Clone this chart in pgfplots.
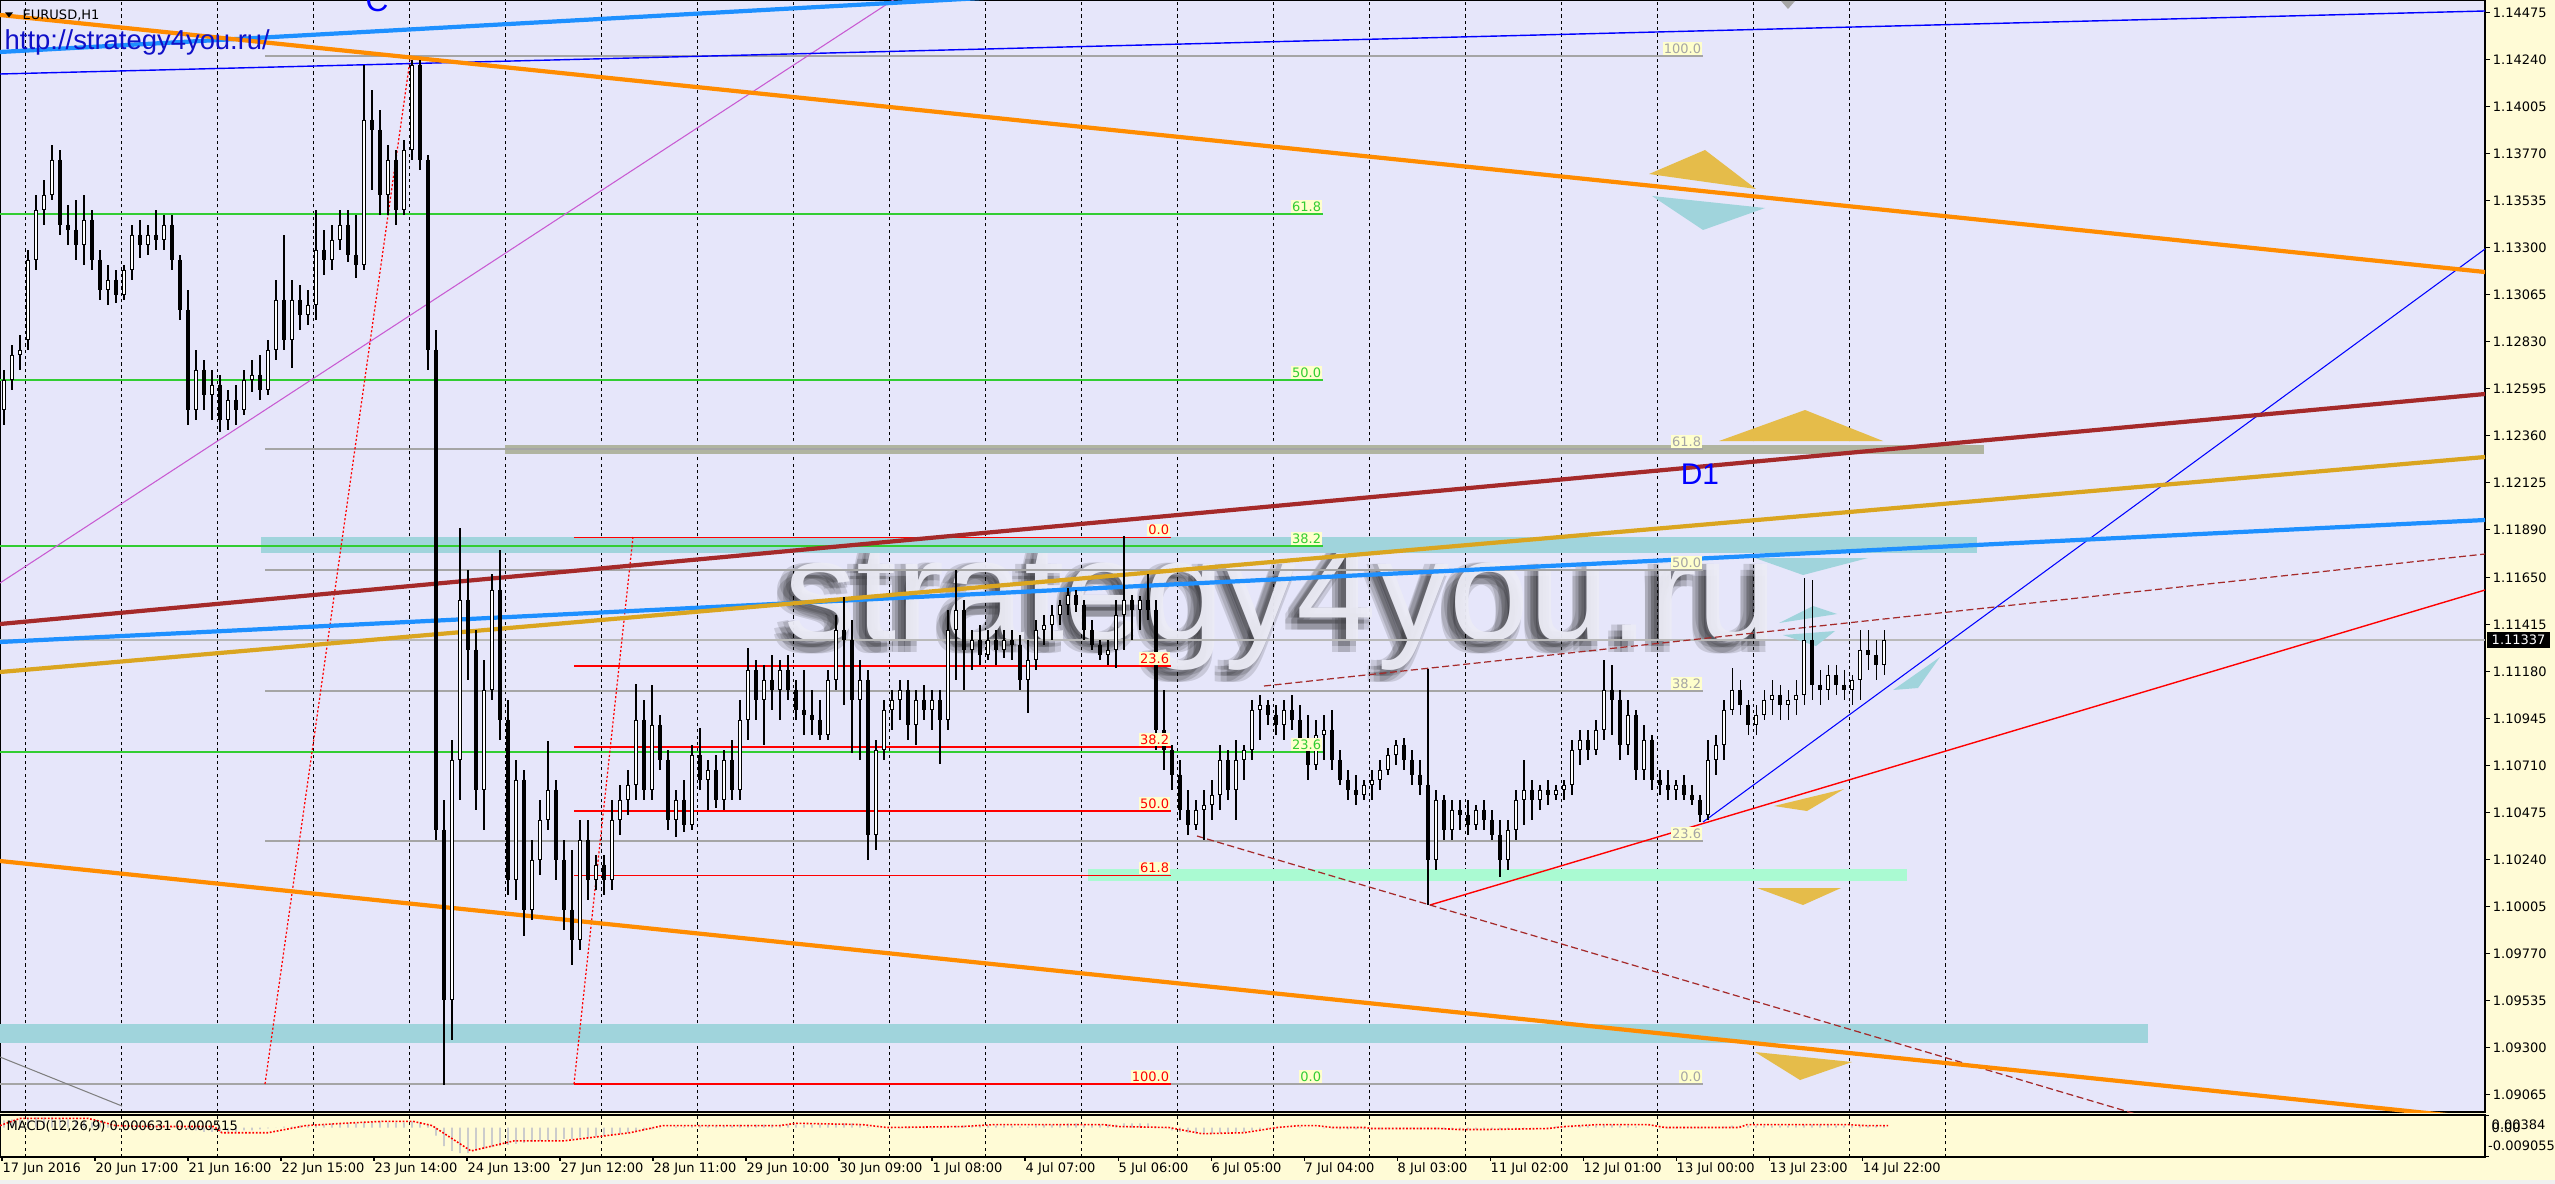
\documentclass[border=0pt]{standalone}
\usepackage{pgfplots}
\pgfplotsset{compat=1.18}
\usepackage{pgfplotstable}
\usepackage{fontspec}
\setmainfont{DejaVu Sans}
\newfontfamily\arial{Liberation Sans}
\newcommand\tf{\fontsize{3.7pt}{4.2pt}\selectfont}
\newcommand\wm{\arial\fontsize{41pt}{45pt}\selectfont}
\definecolor{lav}{RGB}{230,230,250}
\definecolor{bgy}{RGB}{255,251,214}
\definecolor{orng}{RGB}{255,140,0}
\definecolor{gldr}{RGB}{218,165,32}
\definecolor{brn}{RGB}{165,42,42}
\definecolor{dblue}{RGB}{30,144,255}
\definecolor{tblue}{RGB}{0,0,255}
\definecolor{purp}{RGB}{200,90,210}
\definecolor{lblue}{RGB}{160,212,220}
\definecolor{mint}{RGB}{170,250,210}
\definecolor{olv}{RGB}{176,180,160}
\definecolor{trigold}{RGB}{229,188,74}
\definecolor{fibgreen}{RGB}{50,205,50}
\definecolor{fibgrey}{RGB}{165,165,165}
\definecolor{labbg}{RGB}{255,255,204}
\definecolor{urlblue}{RGB}{16,16,200}
\definecolor{wmtext}{RGB}{236,236,246}

\pgfplotstableread{
x o h l c
4 1.12487 1.12687 1.12412 1.12637
12 1.12637 1.12812 1.12587 1.12762
20 1.12762 1.12862 1.12687 1.12787
28 1.12837 1.13287 1.12787 1.13237
36 1.13237 1.13562 1.13187 1.13487
44 1.13487 1.13637 1.13412 1.13562
52 1.13562 1.13812 1.13537 1.13737
60 1.13737 1.13787 1.13362 1.13412
68 1.13412 1.13512 1.13312 1.13387
76 1.13387 1.13537 1.13237 1.13312
84 1.13312 1.13562 1.13212 1.13437
92 1.13437 1.13487 1.13187 1.13237
100 1.13237 1.13287 1.13037 1.13087
108 1.13087 1.13212 1.13012 1.13137
116 1.13137 1.13187 1.13022 1.13062
124 1.13062 1.13212 1.13037 1.13187
132 1.13187 1.13412 1.13137 1.13362
140 1.13362 1.13437 1.13247 1.13312
148 1.13312 1.13412 1.13262 1.13362
156 1.13362 1.13487 1.13287 1.13337
164 1.13337 1.13462 1.13287 1.13412
172 1.13412 1.13462 1.13187 1.13237
180 1.13237 1.13262 1.12937 1.12987
188 1.12987 1.13087 1.12412 1.12487
196 1.12487 1.12787 1.12437 1.12687
204 1.12687 1.12737 1.12487 1.12562
212 1.12562 1.12687 1.12437 1.12612
220 1.12612 1.12662 1.12377 1.12437
228 1.12437 1.12587 1.12387 1.12537
236 1.12537 1.12612 1.12412 1.12487
244 1.12487 1.12687 1.12462 1.12637
252 1.12637 1.12737 1.12577 1.12662
260 1.12662 1.12762 1.12537 1.12587
268 1.12587 1.12837 1.12562 1.12787
276 1.12787 1.13137 1.12737 1.13037
284 1.13037 1.13362 1.12787 1.12837
292 1.12837 1.13137 1.12697 1.13037
300 1.13037 1.13112 1.12887 1.12962
308 1.12962 1.13087 1.12912 1.13012
316 1.13012 1.13487 1.12937 1.13287
324 1.13287 1.13387 1.13162 1.13237
332 1.13237 1.13412 1.13187 1.13337
340 1.13337 1.13487 1.13287 1.13412
348 1.13412 1.13487 1.13227 1.13262
356 1.13262 1.13462 1.13147 1.13212
364 1.13212 1.14212 1.13187 1.13937
372 1.13937 1.14087 1.13587 1.13887
380 1.13887 1.13987 1.13462 1.13562
388 1.13562 1.13812 1.13462 1.13737
396 1.13737 1.13787 1.13412 1.13487
404 1.13487 1.13837 1.13462 1.13787
412 1.13787 1.14237 1.13737 1.14212
420 1.14212 1.14237 1.13687 1.13737
428 1.13737 1.13762 1.12687 1.12787
436 1.12787 1.12887 1.10337 1.10387
444 1.10387 1.10537 1.09112 1.09537
452 1.09537 1.10837 1.09337 1.10737
460 1.10737 1.11897 1.10537 1.11537
468 1.11537 1.11687 1.11137 1.11287
476 1.11287 1.11387 1.10487 1.10587
484 1.10587 1.11237 1.10387 1.11087
492 1.11087 1.11667 1.11037 1.11587
500 1.11587 1.11787 1.10837 1.10937
508 1.10937 1.11037 1.10062 1.10137
516 1.10137 1.10737 1.10037 1.10637
524 1.10637 1.10687 1.09857 1.09987
532 1.09987 1.10337 1.09937 1.10237
540 1.10237 1.10537 1.10162 1.10437
548 1.10437 1.10832 1.10387 1.10587
556 1.10587 1.10637 1.10137 1.10237
564 1.10237 1.10337 1.09887 1.09987
572 1.09987 1.10287 1.09712 1.09837
580 1.09837 1.10437 1.09787 1.10337
588 1.10337 1.10437 1.10037 1.10137
596 1.10137 1.10262 1.10087 1.10212
604 1.10212 1.10262 1.10062 1.10137
612 1.10137 1.10537 1.10087 1.10437
620 1.10437 1.10612 1.10362 1.10537
628 1.10537 1.10687 1.10462 1.10612
636 1.10612 1.11117 1.10537 1.10937
644 1.10937 1.11037 1.10537 1.10587
652 1.10587 1.11112 1.10537 1.10912
660 1.10912 1.10962 1.10687 1.10737
668 1.10737 1.10787 1.10387 1.10437
676 1.10437 1.10587 1.10352 1.10537
684 1.10537 1.10637 1.10377 1.10412
692 1.10412 1.10812 1.10387 1.10762
700 1.10762 1.10897 1.10587 1.10637
708 1.10637 1.10737 1.10487 1.10687
716 1.10687 1.10762 1.10497 1.10537
724 1.10537 1.10787 1.10487 1.10737
732 1.10737 1.10837 1.10537 1.10587
740 1.10587 1.11037 1.10537 1.10937
748 1.10937 1.11297 1.10837 1.11187
756 1.11187 1.11237 1.10937 1.11037
764 1.11037 1.11212 1.10812 1.11137
772 1.11137 1.11262 1.10987 1.11087
780 1.11087 1.11237 1.10937 1.11187
788 1.11187 1.11262 1.11037 1.11087
796 1.11087 1.11137 1.10937 1.10987
804 1.10987 1.11187 1.10862 1.10962
812 1.10962 1.11087 1.10862 1.10937
820 1.10937 1.11037 1.10837 1.10862
828 1.10862 1.11187 1.10837 1.11137
836 1.11137 1.11462 1.11087 1.11387
844 1.11387 1.11552 1.11012 1.11337
852 1.11337 1.11437 1.10772 1.11037
860 1.11037 1.11237 1.10737 1.11137
868 1.11137 1.11187 1.10237 1.10362
876 1.10362 1.10837 1.10287 1.10787
884 1.10787 1.11037 1.10737 1.10987
892 1.10987 1.11087 1.10887 1.11037
900 1.11037 1.11137 1.10937 1.11087
908 1.11087 1.11137 1.10837 1.10912
916 1.10912 1.11087 1.10812 1.11037
924 1.11037 1.11112 1.10937 1.10987
932 1.10987 1.11087 1.10887 1.11037
940 1.11037 1.11087 1.10717 1.10937
948 1.10937 1.11487 1.10887 1.11387
956 1.11387 1.11687 1.11137 1.11487
964 1.11487 1.11537 1.11087 1.11287
972 1.11287 1.11387 1.11187 1.11337
980 1.11337 1.11412 1.11212 1.11262
988 1.11262 1.11387 1.11237 1.11337
996 1.11337 1.11387 1.11212 1.11287
1004 1.11287 1.11387 1.11247 1.11337
1012 1.11337 1.11387 1.11237 1.11312
1020 1.11312 1.11362 1.11087 1.11137
1028 1.11137 1.11337 1.10972 1.11237
1036 1.11237 1.11437 1.11187 1.11387
1044 1.11387 1.11462 1.11312 1.11412
1052 1.11412 1.11512 1.11337 1.11462
1060 1.11462 1.11537 1.11412 1.11512
1068 1.11512 1.11597 1.11462 1.11562
1076 1.11562 1.11587 1.11477 1.11512
1084 1.11512 1.11537 1.11337 1.11387
1092 1.11387 1.11437 1.11287 1.11312
1100 1.11312 1.11337 1.11237 1.11262
1108 1.11262 1.11337 1.11212 1.11287
1116 1.11287 1.11537 1.11197 1.11462
1124 1.11462 1.11857 1.11287 1.11537
1132 1.11537 1.11562 1.11337 1.11487
1140 1.11487 1.11557 1.11387 1.11537
1148 1.11537 1.11667 1.11437 1.11487
1156 1.11487 1.11537 1.10787 1.10887
1164 1.10887 1.11087 1.10687 1.10787
1172 1.10787 1.10812 1.10587 1.10662
1180 1.10662 1.10737 1.10437 1.10487
1188 1.10487 1.10587 1.10362 1.10412
1196 1.10412 1.10537 1.10387 1.10487
1204 1.10487 1.10587 1.10337 1.10512
1212 1.10512 1.10637 1.10437 1.10562
1220 1.10562 1.10812 1.10487 1.10737
1228 1.10737 1.10787 1.10537 1.10587
1236 1.10587 1.10837 1.10437 1.10737
1244 1.10737 1.10812 1.10637 1.10787
1252 1.10787 1.11037 1.10737 1.10987
1260 1.10987 1.11062 1.10837 1.11012
1268 1.11012 1.11037 1.10912 1.10962
1276 1.10962 1.11012 1.10862 1.10912
1284 1.10912 1.11037 1.10837 1.10987
1292 1.10987 1.11062 1.10887 1.10937
1300 1.10937 1.11012 1.10787 1.10837
1308 1.10837 1.10962 1.10637 1.10712
1316 1.10712 1.10937 1.10687 1.10862
1324 1.10862 1.10962 1.10737 1.10887
1332 1.10887 1.10987 1.10687 1.10737
1340 1.10737 1.10787 1.10612 1.10637
1348 1.10637 1.10687 1.10537 1.10587
1356 1.10587 1.10662 1.10512 1.10562
1364 1.10562 1.10637 1.10537 1.10612
1372 1.10612 1.10687 1.10537 1.10637
1380 1.10637 1.10737 1.10587 1.10687
1388 1.10687 1.10797 1.10662 1.10762
1396 1.10762 1.10837 1.10712 1.10812
1404 1.10812 1.10847 1.10687 1.10737
1412 1.10737 1.10787 1.10612 1.10662
1420 1.10662 1.10737 1.10562 1.10612
1428 1.10612 1.11192 1.10012 1.10237
1436 1.10237 1.10587 1.10187 1.10537
1444 1.10537 1.10562 1.10337 1.10387
1452 1.10387 1.10537 1.10337 1.10487
1460 1.10487 1.10537 1.10387 1.10462
1468 1.10462 1.10537 1.10362 1.10412
1476 1.10412 1.10512 1.10387 1.10487
1484 1.10487 1.10537 1.10387 1.10437
1492 1.10437 1.10487 1.10337 1.10362
1500 1.10362 1.10437 1.10152 1.10237
1508 1.10237 1.10437 1.10187 1.10387
1516 1.10387 1.10587 1.10337 1.10537
1524 1.10537 1.10737 1.10412 1.10587
1532 1.10587 1.10637 1.10437 1.10537
1540 1.10537 1.10612 1.10487 1.10587
1548 1.10587 1.10637 1.10512 1.10562
1556 1.10562 1.10612 1.10537 1.10587
1564 1.10587 1.10637 1.10537 1.10612
1572 1.10612 1.10837 1.10562 1.10787
1580 1.10787 1.10887 1.10712 1.10837
1588 1.10837 1.10887 1.10737 1.10787
1596 1.10787 1.10937 1.10762 1.10887
1604 1.10887 1.11237 1.10837 1.11087
1612 1.11087 1.11212 1.10862 1.11037
1620 1.11037 1.11087 1.10737 1.10812
1628 1.10812 1.11037 1.10762 1.10962
1636 1.10962 1.10987 1.10637 1.10687
1644 1.10687 1.10912 1.10637 1.10837
1652 1.10837 1.10862 1.10587 1.10637
1660 1.10637 1.10687 1.10562 1.10612
1668 1.10612 1.10687 1.10537 1.10587
1676 1.10587 1.10637 1.10537 1.10612
1684 1.10612 1.10662 1.10537 1.10562
1692 1.10562 1.10612 1.10512 1.10537
1700 1.10537 1.10562 1.10427 1.10462
1708 1.10462 1.10837 1.10437 1.10737
1716 1.10737 1.10862 1.10662 1.10812
1724 1.10812 1.11037 1.10737 1.10987
1732 1.10987 1.11197 1.10962 1.11087
1740 1.11087 1.11137 1.10962 1.11012
1748 1.11012 1.11037 1.10862 1.10912
1756 1.10912 1.11012 1.10862 1.10962
1764 1.10962 1.11087 1.10937 1.11037
1772 1.11037 1.11137 1.10962 1.11062
1780 1.11062 1.11112 1.10937 1.11012
1788 1.11012 1.11087 1.10937 1.11037
1796 1.11037 1.11137 1.10962 1.11062
1804 1.11062 1.11647 1.11012 1.11337
1812 1.11337 1.11637 1.11037 1.11112
1820 1.11112 1.11187 1.11012 1.11087
1828 1.11087 1.11212 1.11037 1.11162
1836 1.11162 1.11212 1.11062 1.11112
1844 1.11112 1.11187 1.11037 1.11087
1852 1.11087 1.11162 1.11012 1.11137
1860 1.11137 1.11387 1.11037 1.11287
1868 1.11287 1.11387 1.11187 1.11262
1876 1.11262 1.11337 1.11137 1.11212
1884 1.11212 1.11387 1.11162 1.11337
}\candles

\pgfplotstableread[row sep=\\]{v\\0.0022\\0.0025\\0.0025\\0.0028\\0.0031\\0.0031\\0.0031\\0.0028\\0.0025\\0.0022\\
0.0019\\0.0016\\0.0013\\0.0009\\0.0006\\0.0006\\0.0006\\0.0006\\0.0006\\0.0006\\
0.0006\\0.0003\\0\\-0.0006\\-0.0009\\-0.0013\\-0.0013\\-0.0013\\-0.0013\\-0.0013\\
-0.0009\\-0.0009\\-0.0006\\-0.0003\\0\\0.0003\\0.0003\\0.0006\\0.0006\\0.0009\\
0.0009\\0.0013\\0.0013\\0.0013\\0.0013\\0.0016\\0.0019\\0.0019\\0.0016\\0.0016\\
0.0016\\0.0019\\0.0016\\0.0009\\-0.0025\\-0.0057\\-0.0072\\-0.0079\\-0.0079\\-0.0072\\
-0.0066\\-0.0060\\-0.0057\\-0.0053\\-0.0050\\-0.0047\\-0.0044\\-0.0041\\-0.0038\\-0.0038\\
-0.0035\\-0.0035\\-0.0031\\-0.0031\\-0.0028\\-0.0025\\-0.0022\\-0.0019\\-0.0016\\-0.0013\\
-0.0009\\-0.0006\\-0.0003\\0\\0.0003\\0.0003\\0.0006\\0.0006\\0.0006\\0.0006\\
0.0006\\0.0006\\0.0009\\0.0009\\0.0009\\0.0009\\0.0009\\0.0009\\0.0009\\0.0009\\
0.0009\\0.0009\\0.0009\\0.0009\\0.0013\\0.0013\\0.0013\\0.0009\\0.0003\\0\\
0\\-0.0003\\-0.0003\\-0.0003\\-0.0003\\-0.0003\\-0.0003\\-0.0003\\0.0003\\0.0006\\
0.0006\\0.0006\\0.0006\\0.0006\\0.0006\\0.0006\\0.0006\\0.0003\\0.0003\\0.0006\\
0.0009\\0.0009\\0.0009\\0.0013\\0.0013\\0.0009\\0.0009\\0.0009\\0.0009\\0.0009\\
0.0013\\0.0013\\0.0013\\0.0013\\0.0003\\-0.0003\\-0.0009\\-0.0013\\-0.0016\\-0.0019\\
-0.0019\\-0.0019\\-0.0016\\-0.0016\\-0.0013\\-0.0013\\-0.0009\\-0.0006\\-0.0003\\-0.0003\\
0\\0\\0.0003\\0\\0\\-0.0003\\-0.0003\\-0.0006\\-0.0006\\-0.0006\\
-0.0006\\-0.0006\\-0.0006\\-0.0003\\-0.0003\\-0.0003\\-0.0003\\-0.0006\\-0.0006\\-0.0006\\
-0.0006\\-0.0006\\-0.0006\\-0.0006\\-0.0006\\-0.0006\\-0.0006\\-0.0006\\-0.0006\\-0.0003\\
-0.0003\\0\\0\\0\\0.0003\\0.0003\\0.0006\\0.0006\\0.0006\\0.0006\\
0.0009\\0.0009\\0.0006\\0.0006\\0.0003\\0\\0\\-0.0003\\-0.0003\\-0.0003\\
-0.0003\\-0.0003\\-0.0003\\0\\0\\0.0003\\0.0006\\0.0006\\0.0006\\0.0006\\
0.0006\\0.0006\\0.0006\\0.0006\\0.0006\\0.0009\\0.0009\\0.0009\\0.0009\\0.0006\\
0.0006\\0.0006\\0.0006\\0.0006\\0.0006\\0.0006\\
}\macdh

\begin{document}
\begin{tikzpicture}
\useasboundingbox (0,0) rectangle (255.5mm,-118.4mm);
\fill[bgy] (0,0) rectangle (255.5mm,-118.4mm);
\fill[gray!12] (0,-118.0mm) rectangle (255.5mm,-118.4mm);

\begin{axis}[
  at={(0,0)}, anchor=north west, scale only axis,
  width=248.5mm, height=111.2mm,
  xmin=0, xmax=2485, ymin=1.08977, ymax=1.14537,
  axis background/.style={fill=lav},
  axis line style={black, line width=0.35pt},
  xtick={25,121,...,1945}, xticklabels={}, xtick style={draw=none},
  xmajorgrids, major x grid style={black, line width=0.25pt, dash pattern=on 0.9pt off 0.9pt},
  ytick={1.09065,1.09300,1.09535,1.09770,1.10005,1.10240,1.10475,1.10710,1.10945,1.11180,1.11415,1.11650,1.11890,1.12125,1.12360,1.12595,1.12830,1.13065,1.13300,1.13535,1.13770,1.14005,1.14240,1.14475},
  yticklabels={1.09065,1.09300,1.09535,1.09770,1.10005,1.10240,1.10475,1.10710,1.10945,1.11180,1.11415,1.11650,1.11890,1.12125,1.12360,1.12595,1.12830,1.13065,1.13300,1.13535,1.13770,1.14005,1.14240,1.14475},
  ytick pos=right, yticklabel pos=right, tick align=outside,
  major tick length=0.5mm,
  ytick style={black, line width=0.3pt},
  yticklabel style={font=\tf, anchor=west, inner sep=0.6pt},
]
% watermark (background, blurred shadow)
\pgfplotsextra{
  \foreach \dx/\dy in {-1.4/-1.2,-0.8/-1.2,-0.2/-1.2,-1.4/-0.6,-0.8/-0.6,-0.2/-0.6,-1.1/0.0,-0.5/0.0}{
      \node[anchor=base, font=\wm, text=black, opacity=0.13, inner sep=0]
        at ([shift={(\dx mm,\dy mm)}]axis cs:1281,1.11337) {strategy4you.ru};
  }
  \node[anchor=base, font=\wm, text=wmtext, opacity=0.95, inner sep=0]
     at (axis cs:1281,1.11337) {strategy4you.ru};
}
% bands
\addplot[fill=lblue, draw=none] coordinates {(261,1.11852) (1977,1.11852) (1977,1.11772) (261,1.11772)} -- cycle;
\addplot[fill=lblue, draw=none] coordinates {(0,1.09417) (2148,1.09417) (2148,1.09322) (0,1.09322)} -- cycle;
\addplot[fill=olv, draw=none] coordinates {(505,1.12312) (1984,1.12312) (1984,1.12267) (505,1.12267)} -- cycle;
\addplot[fill=mint, draw=none] coordinates {(1088,1.10192) (1907,1.10192) (1907,1.10132) (1088,1.10132)} -- cycle;
% bid line
\addplot[gray!55, line width=0.3pt] coordinates {(0,1.11337) (2485,1.11337)};
% fib A (green)
\addplot[fibgreen, line width=0.3pt] coordinates {(0,1.13467) (1323,1.13467)};
\addplot[fibgreen, line width=0.3pt] coordinates {(0,1.12637) (1323,1.12637)};
\addplot[fibgreen, line width=0.3pt] coordinates {(0,1.11807) (1323,1.11807)};
\addplot[fibgreen, line width=0.3pt] coordinates {(0,1.10777) (1323,1.10777)};
\addplot[fibgrey, line width=0.3pt] coordinates {(0,1.09117) (1323,1.09117)};
% fib B (grey)
\addplot[fibgrey, line width=0.3pt] coordinates {(265,1.14257) (1703,1.14257)};
\addplot[fibgrey, line width=0.3pt] coordinates {(265,1.12292) (1703,1.12292)};
\addplot[fibgrey, line width=0.3pt] coordinates {(265,1.11687) (1703,1.11687)};
\addplot[fibgrey, line width=0.3pt] coordinates {(265,1.11082) (1703,1.11082)};
\addplot[fibgrey, line width=0.3pt] coordinates {(265,1.10332) (1703,1.10332)};
\addplot[fibgrey, line width=0.3pt] coordinates {(265,1.09117) (1703,1.09117)};
% fib C (red)
\addplot[red, line width=0.3pt] coordinates {(574,1.118495) (1171,1.118495)};
\addplot[red, line width=0.3pt] coordinates {(574,1.11207) (1171,1.11207)};
\addplot[red, line width=0.3pt] coordinates {(574,1.10802) (1171,1.10802)};
\addplot[red, line width=0.3pt] coordinates {(574,1.10482) (1171,1.10482)};
\addplot[red, line width=0.3pt] coordinates {(574,1.101595) (1171,1.101595)};
\addplot[red, line width=0.5pt] coordinates {(574,1.09117) (1171,1.09117)};
% thin trend lines
\addplot[purp, line width=0.3pt] coordinates {(0,1.11622) (950,1.14722)};
\addplot[red, line width=0.35pt, dash pattern=on 0.6pt off 0.6pt] coordinates {(265,1.09117) (410,1.14237)};
\addplot[red, line width=0.35pt, dash pattern=on 0.6pt off 0.6pt] coordinates {(574,1.09117) (633,1.11852)};
\addplot[gray, line width=0.3pt] coordinates {(0,1.09252) (122,1.09007)};
\addplot[tblue, line width=0.4pt] coordinates {(0,1.14167) (2485,1.14482)};
\addplot[tblue, line width=0.3pt] coordinates {(1703,1.10427) (2485,1.13292)};
\addplot[red, line width=0.4pt] coordinates {(1430,1.10012) (2485,1.11587)};
\addplot[brn, line width=0.35pt, dash pattern=on 2pt off 1pt] coordinates {(1264,1.11107) (2485,1.11767)};
\addplot[brn, line width=0.35pt, dash pattern=on 2pt off 1pt] coordinates {(1197,1.10357) (2200,1.08872)};
% thick lines
\addplot[dblue, line width=1.2pt] coordinates {(0,1.14277) (1000,1.14552)};
\addplot[orng, line width=1.2pt] coordinates {(0,1.14462) (2485,1.13177)};
\addplot[orng, line width=1.2pt] coordinates {(0,1.10232) (2485,1.08942)};
\addplot[brn, line width=1.2pt] coordinates {(0,1.11417) (2485,1.12567)};
\addplot[dblue, line width=1.2pt] coordinates {(0,1.11327) (2485,1.11937)};
\addplot[gldr, line width=1.2pt] coordinates {(0,1.11177) (2485,1.12252)};
% triangles
\addplot[fill=trigold, draw=none] coordinates {(1649,1.13667) (1705,1.13787) (1756,1.13592)} -- cycle;
\addplot[fill=lblue, draw=none] coordinates {(1652,1.13557) (1765,1.13497) (1703,1.13387)} -- cycle;
\addplot[fill=trigold, draw=none] coordinates {(1719,1.12332) (1805,1.12487) (1883,1.12332)} -- cycle;
\addplot[fill=lblue, draw=none] coordinates {(1755,1.11747) (1868,1.11747) (1803,1.11662)} -- cycle;
\addplot[fill=lblue, draw=none] coordinates {(1779,1.11422) (1837,1.11467) (1813,1.11507)} -- cycle;
\addplot[fill=lblue, draw=none] coordinates {(1783,1.11362) (1835,1.11382) (1816,1.11307)} -- cycle;
\addplot[fill=lblue, draw=none] coordinates {(1893,1.11087) (1940,1.11252) (1918,1.11097)} -- cycle;
\addplot[fill=trigold, draw=none] coordinates {(1774,1.10507) (1844,1.10592) (1807,1.10482)} -- cycle;
\addplot[fill=trigold, draw=none] coordinates {(1757,1.10097) (1841,1.10097) (1803,1.10012)} -- cycle;
\addplot[fill=trigold, draw=none] coordinates {(1755,1.09277) (1852,1.09227) (1800,1.09137)} -- cycle;
\addplot[fill=gray!70, draw=none] coordinates {(1781,1.14532) (1795,1.14532) (1788,1.14492)} -- cycle;
\addplot[fill=black, draw=none] coordinates {(5,1.14475) (13,1.14475) (9,1.14450)} -- cycle;
% candles: wicks
\addplot[draw=none, mark=none, error bars/.cd, y dir=both, y explicit, error mark=none,
  error bar style={draw=black, line width=0.3pt}]
  table[x=x, y expr={0.5*(\thisrow{h}+\thisrow{l})}, y error expr={0.5*(\thisrow{h}-\thisrow{l})}] {\candles};
% bodies
\addplot[draw=none, mark=none, error bars/.cd, y dir=minus, y explicit, error mark=none,
  error bar style={draw=black, line width=1.25pt}]
  table[x=x, y expr={max(\thisrow{o},\thisrow{c})+0.00002}, y error minus expr={abs(\thisrow{o}-\thisrow{c})+0.00004}] {\candles};
% hollow bull bodies
\addplot[draw=none, mark=none, error bars/.cd, y dir=minus, y explicit, error mark=none,
  error bar style={draw=white, line width=0.6pt}]
  table[x=x, y expr={\thisrow{c}-0.00003}, y error minus expr={max(\thisrow{c}-\thisrow{o}-0.00006,0)}] {\candles};
% texts
\node[anchor=base west, font=\arial\fontsize{7.8pt}{8pt}\selectfont, text=urlblue, inner sep=0] at (axis cs:4,1.14287) {http://strategy4you.ru/};
\node[anchor=west, font=\tf, inner sep=0] at (axis cs:22,1.14462) {EURUSD,H1};
\node[anchor=base, font=\arial\fontsize{9pt}{9pt}\selectfont, text=tblue, inner sep=0] at (axis cs:377,1.14480) {C};
\node[anchor=base, font=\arial\fontsize{8.5pt}{9pt}\selectfont, text=tblue, inner sep=0] at (axis cs:1700,1.12117) {D1};
% fib labels
\tikzset{fl/.style={anchor=south east, fill=labbg, font=\tf, inner sep=0.35pt, yshift=0.15pt}}
\node[fl, text=fibgreen] at (axis cs:1323,1.13467) {61.8};
\node[fl, text=fibgreen] at (axis cs:1323,1.12637) {50.0};
\node[fl, text=fibgreen] at (axis cs:1323,1.11807) {38.2};
\node[fl, text=fibgreen] at (axis cs:1323,1.10777) {23.6};
\node[fl, text=fibgreen] at (axis cs:1323,1.09117) {0.0};
\node[fl, text=fibgrey] at (axis cs:1703,1.14257) {100.0};
\node[fl, text=fibgrey] at (axis cs:1703,1.12292) {61.8};
\node[fl, text=fibgrey] at (axis cs:1703,1.11687) {50.0};
\node[fl, text=fibgrey] at (axis cs:1703,1.11082) {38.2};
\node[fl, text=fibgrey] at (axis cs:1703,1.10332) {23.6};
\node[fl, text=fibgrey] at (axis cs:1703,1.09117) {0.0};
\node[fl, text=red] at (axis cs:1171,1.118495) {0.0};
\node[fl, text=red] at (axis cs:1171,1.11207) {23.6};
\node[fl, text=red] at (axis cs:1171,1.10802) {38.2};
\node[fl, text=red] at (axis cs:1171,1.10482) {50.0};
\node[fl, text=red] at (axis cs:1171,1.101595) {61.8};
\node[fl, text=red] at (axis cs:1171,1.09117) {100.0};
\end{axis}

\begin{axis}[
  at={(0,-111.5mm)}, anchor=north west, scale only axis,
  width=248.5mm, height=4.2mm,
  xmin=0, xmax=2485, ymin=-0.009055, ymax=0.00384,
  axis background/.style={fill=bgy},
  axis line style={black, line width=0.35pt},
  xtick={25,121,...,1945}, xticklabels={}, xtick style={draw=none},
  xmajorgrids, major x grid style={black, line width=0.25pt, dash pattern=on 0.9pt off 0.9pt},
  ytick=\empty,
]
\addplot[ybar, bar width=0.55pt, fill=gray!40, draw=none] table[x expr=\coordindex*8+4, y=v] {\macdh};
\addplot[red, line width=0.45pt, dash pattern=on 0.5pt off 0.5pt] coordinates {
(0,0.0006) (20,0.0028) (88,0.0028) (100,0.0019) (115,0.0006) (150,0.0003) (214,0.0003) (222,-0.0016) (268,-0.0016) (306,0.0006) (344,0.0013) (383,0.0019) (413,0.0019) (432,0.0006) (471,-0.0072) (514,-0.0041) (564,-0.0041) (630,-0.0016) (663,0.0006) (780,0.0006) (796,0.0013) (862,0.0009) (887,0) (962,0.0003) (995,0.0009) (1103,0.0009) (1119,0.0003) (1169,0) (1202,-0.0019) (1244,-0.0016) (1277,0) (1300,0.0006) (1316,0.0006) (1333,0) (1366,0) (1370,-0.0003) (1440,-0.0003) (1457,-0.0006) (1490,-0.0006) (1548,-0.0003) (1565,0.0003) (1598,0.0009) (1648,0.0009) (1665,0) (1739,0) (1747,0.0009) (1847,0.0009) (1864,0.0006) (1888,0.0006)};
\end{axis}

% MACD label and scale
\node[anchor=west, font=\tf, inner sep=0] at (0.6mm,-112.65mm) {MACD(12,26,9) 0.000631 0.000515};
\node[anchor=west, font=\tf, inner sep=0] at (249.1mm,-112.45mm) {0.00384};
\node[anchor=west, font=\tf, inner sep=0] at (249.1mm,-112.75mm) {0.00};
\node[anchor=west, font=\tf, inner sep=0] at (248.75mm,-114.55mm) {-0.009055};
\draw[black, line width=0.3pt] (248.5mm,-111.55mm) -- ++(0.4mm,0);
\draw[black, line width=0.3pt] (248.5mm,-115.65mm) -- ++(0.4mm,0);
% current price box
\node[anchor=west, fill=black, text=white, font=\tf, inner xsep=0.45mm, inner ysep=0.3mm] at (248.65mm,-64.0mm) {1.11337};
% time labels
\foreach \lab [count=\i from 0] in {17 Jun 2016,20 Jun 17:00,21 Jun 16:00,22 Jun 15:00,23 Jun 14:00,24 Jun 13:00,27 Jun 12:00,28 Jun 11:00,29 Jun 10:00,30 Jun 09:00,1 Jul 08:00,4 Jul 07:00,5 Jul 06:00,6 Jul 05:00,7 Jul 04:00,8 Jul 03:00,11 Jul 02:00,12 Jul 01:00,13 Jul 00:00,13 Jul 23:00,14 Jul 22:00}{
  \node[anchor=west, font=\tf, inner sep=0] at ({(2+93*\i)*0.1mm},-116.9mm) {\lab};
  \draw[black, line width=0.3pt] ({(2+93*\i)*0.1mm},-115.7mm) -- ++(0,-0.35mm);
}
\end{tikzpicture}
\end{document}
